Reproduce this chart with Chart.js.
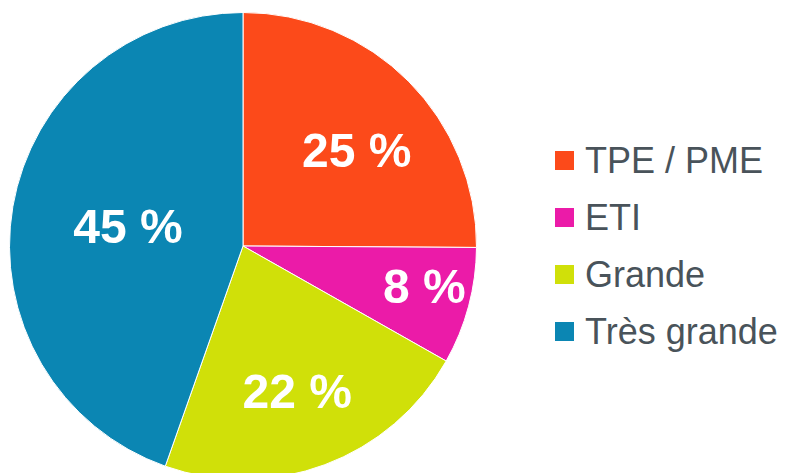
<!DOCTYPE html>
<html>
<head>
<meta charset="utf-8">
<script src="https://cdn.jsdelivr.net/npm/chart.js@4/dist/chart.umd.min.js"></script>
<style>
  html, body { margin: 0; padding: 0; background: #ffffff; overflow: hidden; }
  body { width: 787px; height: 473px; position: relative; font-family: "Liberation Sans", Arial, sans-serif; }
  #pie-box { position: absolute; left: 9px; top: 12px; width: 468px; height: 468px; }
  #legend { position: absolute; left: 555px; top: 132px; }
  .row { height: 57px; display: flex; align-items: center; font-size: 36px; color: #49535a; white-space: nowrap; }
  .swatch { width: 19px; height: 19px; margin-right: 11px; flex: none; }
</style>
</head>
<body>
<div id="pie-box"><canvas id="pie"></canvas></div>
<div id="legend"></div>
<script>
//categories and shares (percent)
const categories = ["TPE / PME", "ETI", "Grande", "Très grande"];
const shares = [25.1, 8.1, 22.2, 44.6];
const sliceColors = ["#fc4a1a", "#eb1ba8", "#d0e009", "#0b86b3"];
//where each label sits: fraction of radius, and angle shift in degrees
const labelRadius = [0.636, 0.795, 0.662, 0.5];
const labelShift = [4.75, -2.6, 0, 0];

//legend built from the arrays
const legend = document.getElementById("legend");
categories.forEach((name, i) => {
  const row = document.createElement("div");
  row.className = "row";
  const sw = document.createElement("span");
  sw.className = "swatch";
  sw.style.background = sliceColors[i];
  const txt = document.createElement("span");
  txt.textContent = name;
  row.appendChild(sw);
  row.appendChild(txt);
  legend.appendChild(row);
});

//plugin that writes the percent inside each slice
const sliceLabels = {
  id: "sliceLabels",
  afterDatasetsDraw: chart => {
    const ctx = chart.ctx;
    const arcs = chart.getDatasetMeta(0).data;
    ctx.save();
    ctx.fillStyle = "#ffffff";
    ctx.font = "bold 48px 'Liberation Sans', Arial, sans-serif";
    ctx.textAlign = "center";
    ctx.textBaseline = "alphabetic";
    arcs.forEach((arc, i) => {
      const p = arc.getProps(["x", "y", "startAngle", "endAngle", "outerRadius"], true);
      const mid = (p.startAngle + p.endAngle) / 2 + labelShift[i] * Math.PI / 180;
      const d = p.outerRadius * labelRadius[i];
      const x = p.x + Math.cos(mid) * d;
      const y = p.y + Math.sin(mid) * d;
      ctx.fillText(Math.round(shares[i]) + " %", x, y + 17);
    });
    ctx.restore();
  }
};

new Chart(document.getElementById("pie"), {
  type: "pie",
  plugins: [sliceLabels],
  data: {
    labels: categories,
    datasets: [{
      data: shares,
      backgroundColor: sliceColors,
      borderColor: "#ffffff",
      borderWidth: 1
    }]
  },
  options: {
    responsive: true,
    maintainAspectRatio: false,
    animation: false,
    layout: { padding: 0 },
    plugins: {
      legend: { display: false },
      tooltip: { enabled: false }
    }
  }
});
</script>
</body>
</html>
